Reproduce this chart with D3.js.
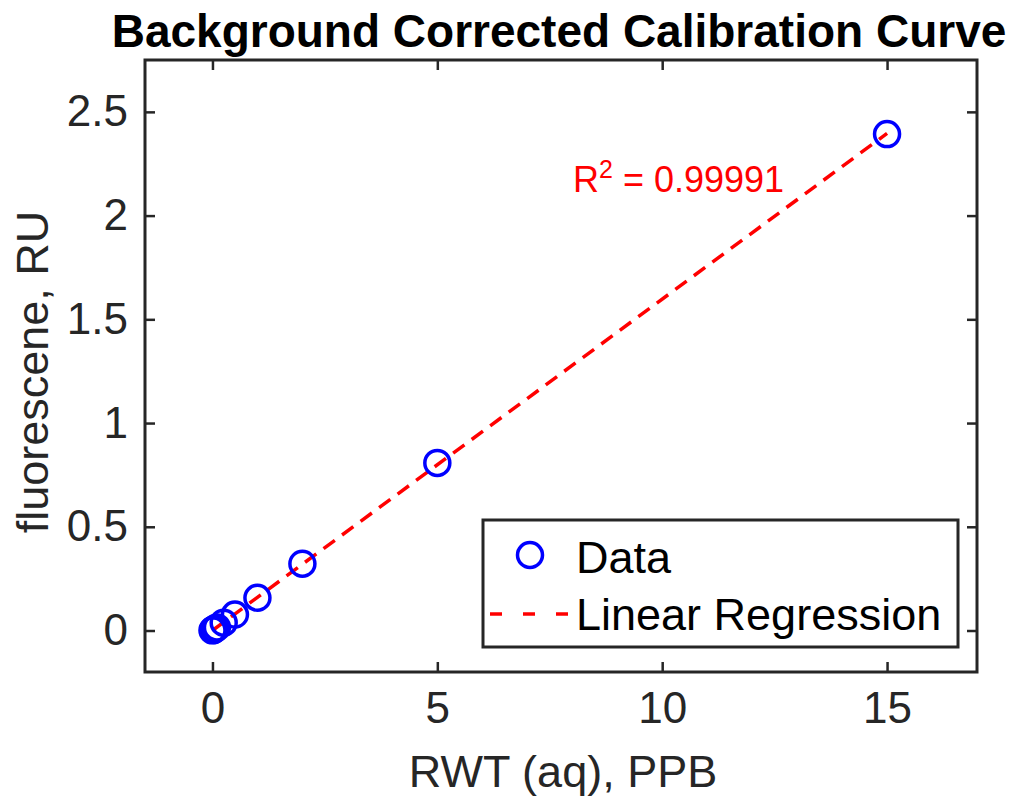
<!DOCTYPE html>
<html>
<head>
<meta charset="utf-8">
<script src="https://cdn.jsdelivr.net/npm/d3@7"></script>
<style>
  html, body { margin: 0; padding: 0; background: #fff; }
  text { font-family: "Liberation Sans", Arial, sans-serif; }
</style>
</head>
<body>
<div id="chart"></div>
<script>
// Data
const concPPB = [0, 0.02, 0.05, 0.1, 0.25, 0.5, 1, 2, 5, 15];
const fluorRU = [0.001, 0.003, 0.007, 0.015, 0.038, 0.077, 0.158, 0.322, 0.808, 2.393];
const xTicks = [0, 5, 10, 15];
const yTicks = [0, 0.5, 1, 1.5, 2, 2.5];
const rSquaredLabel = "0.99991";
const legendLabels = ["Data", "Linear Regression"];

const width = 1015, height = 802;
const frame = { left: 145, right: 977, top: 60, bottom: 672 };
const axisColor = "#262626";

const svg = d3.select("#chart").append("svg")
    .attr("width", width)
    .attr("height", height);

const x = d3.scaleLinear().domain([-1.5, 17]).range([frame.left, frame.right]);
const y = d3.scaleLinear().domain([-0.2, 2.75]).range([frame.bottom, frame.top]);

// least squares fit for the red line
const mx = d3.mean(concPPB), my = d3.mean(fluorRU);
let sxy = 0, sxx = 0;
concPPB.forEach((v, i) => { sxy += (v - mx) * (fluorRU[i] - my); sxx += (v - mx) * (v - mx); });
const slope = sxy / sxx;
const intercept = my - slope * mx;
const fitX = d3.extent(concPPB);

// axes with inward ticks (box on, so ticks on all four sides)
const tickLen = 10;
const fmt = d => d3.format("~g")(d);

svg.append("g")
    .attr("transform", `translate(0, ${frame.bottom})`)
    .call(d3.axisBottom(x).tickValues(xTicks).tickSizeInner(-tickLen).tickSizeOuter(0).tickPadding(20).tickFormat(fmt))
    .call(g => g.select(".domain").remove())
    .call(g => g.selectAll("line").attr("stroke", axisColor).attr("stroke-width", 2.5))
    .call(g => g.selectAll("text").attr("fill", axisColor).style("font-size", "44px"));

svg.append("g")
    .attr("transform", `translate(0, ${frame.top})`)
    .call(d3.axisTop(x).tickValues(xTicks).tickSizeInner(-tickLen).tickSizeOuter(0).tickFormat(""))
    .call(g => g.select(".domain").remove())
    .call(g => g.selectAll("line").attr("stroke", axisColor).attr("stroke-width", 2.5));

svg.append("g")
    .attr("transform", `translate(${frame.left}, 0)`)
    .call(d3.axisLeft(y).tickValues(yTicks).tickSizeInner(-tickLen).tickSizeOuter(0).tickPadding(17).tickFormat(fmt))
    .call(g => g.select(".domain").remove())
    .call(g => g.selectAll("line").attr("stroke", axisColor).attr("stroke-width", 2.5))
    .call(g => g.selectAll("text").attr("fill", axisColor).style("font-size", "44px"));

svg.append("g")
    .attr("transform", `translate(${frame.right}, 0)`)
    .call(d3.axisRight(y).tickValues(yTicks).tickSizeInner(-tickLen).tickSizeOuter(0).tickFormat(""))
    .call(g => g.select(".domain").remove())
    .call(g => g.selectAll("line").attr("stroke", axisColor).attr("stroke-width", 2.5));

// frame
svg.append("rect")
    .attr("x", frame.left).attr("y", frame.top)
    .attr("width", frame.right - frame.left)
    .attr("height", frame.bottom - frame.top)
    .attr("fill", "none")
    .attr("stroke", axisColor)
    .attr("stroke-width", 3);

// regression line
svg.append("line")
    .attr("x1", x(fitX[0])).attr("y1", y(intercept + slope * fitX[0]))
    .attr("x2", x(fitX[1])).attr("y2", y(intercept + slope * fitX[1]))
    .attr("stroke", "#ff0000")
    .attr("stroke-width", 3.5)
    .attr("stroke-dasharray", "14 9");

// data circles
svg.append("g").selectAll("circle")
    .data(concPPB)
    .join("circle")
    .attr("cx", d => x(d))
    .attr("cy", (d, i) => y(fluorRU[i]))
    .attr("r", 12.5)
    .attr("fill", "none")
    .attr("stroke", "#0000ff")
    .attr("stroke-width", 3.5);

// R^2 annotation
const rText = svg.append("text")
    .attr("x", 573).attr("y", 192)
    .attr("fill", "#ff0000")
    .style("font-size", "36px");
rText.append("tspan").text("R");
rText.append("tspan").attr("dy", -14).style("font-size", "25px").text("2");
rText.append("tspan").attr("dy", 14).text(" = " + rSquaredLabel);

// title and axis labels
svg.append("text")
    .attr("x", 559).attr("y", 47)
    .attr("text-anchor", "middle")
    .style("font-size", "46px")
    .style("font-weight", "bold")
    .attr("fill", "#000")
    .text("Background Corrected Calibration Curve");

svg.append("text")
    .attr("x", 563).attr("y", 787)
    .attr("text-anchor", "middle")
    .style("font-size", "45px")
    .attr("fill", axisColor)
    .text("RWT (aq), PPB");

svg.append("text")
    .attr("transform", `translate(48, 372) rotate(-90)`)
    .attr("text-anchor", "middle")
    .style("font-size", "45px")
    .attr("fill", axisColor)
    .text("fluorescene, RU");

// legend
const legend = svg.append("g");
legend.append("rect")
    .attr("x", 483).attr("y", 520)
    .attr("width", 475).attr("height", 127)
    .attr("fill", "#fff")
    .attr("stroke", axisColor)
    .attr("stroke-width", 3);
legend.append("circle")
    .attr("cx", 530).attr("cy", 555)
    .attr("r", 12.5)
    .attr("fill", "none")
    .attr("stroke", "#0000ff")
    .attr("stroke-width", 3.5);
legend.append("line")
    .attr("x1", 490).attr("x2", 568)
    .attr("y1", 614).attr("y2", 614)
    .attr("stroke", "#ff0000")
    .attr("stroke-width", 3.5)
    .attr("stroke-dasharray", "12 21");
legend.selectAll("text.lab")
    .data(legendLabels)
    .join("text")
    .attr("class", "lab")
    .attr("x", 576)
    .attr("y", (d, i) => 573 + i * 57)
    .style("font-size", "45px")
    .attr("fill", "#000")
    .text(d => d);
</script>
</body>
</html>
